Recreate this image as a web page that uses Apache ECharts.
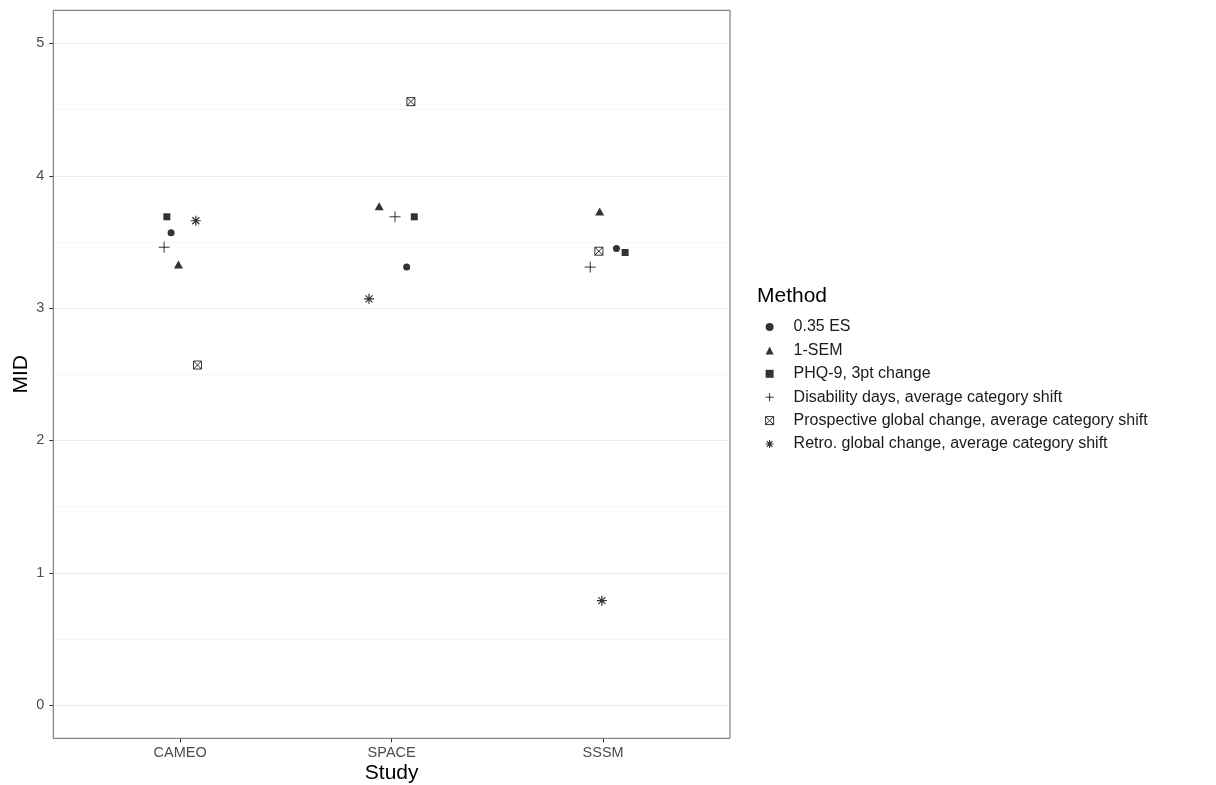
<!DOCTYPE html>
<html>
<head>
<meta charset="utf-8">
<script src="https://cdn.jsdelivr.net/npm/echarts@6/dist/echarts.min.js"></script>
<style>
html,body{margin:0;padding:0;background:#fff;}
#chart{width:1216px;height:785px;}
</style>
</head>
<body>
<div id="chart"></div>
<script>
// ---- data ----
const studies = ['CAMEO', 'SPACE', 'SSSM'];
const methods = ['0.35 ES', '1-SEM', 'PHQ-9, 3pt change', 'Disability days, average category shift',
  'Prospective global change, average category shift', 'Retro. global change, average category shift'];
// MID values per method, for CAMEO, SPACE, SSSM
const midES      = [3.57, 3.31, 3.45];
const midSEM     = [3.32, 3.76, 3.72];
const midPHQ     = [3.69, 3.69, 3.42];
const midDisab   = [3.46, 3.69, 3.31];
const midProsp   = [2.57, 4.56, 3.43];
const midRetro   = [3.66, 3.07, 0.79];
// horizontal jitter (category units) per method, for CAMEO, SPACE, SSSM
const jitES      = [-0.043, 0.071, 0.063];
const jitSEM     = [-0.008, -0.059, -0.016];
const jitPHQ     = [-0.063, 0.107, 0.104];
const jitDisab   = [-0.076, 0.016, -0.061];
const jitProsp   = [0.082, 0.091, -0.020];
const jitRetro   = [0.074, -0.107, -0.006];
const yTicks = [0, 1, 2, 3, 4, 5];
const yGrid = [0, 0.5, 1, 1.5, 2, 2.5, 3, 3.5, 4, 4.5, 5];

const vals = [midES, midSEM, midPHQ, midDisab, midProsp, midRetro];
const jits = [jitES, jitSEM, jitPHQ, jitDisab, jitProsp, jitRetro];

const FONT = '"Liberation Sans", Arial, sans-serif';
const PLUS = 'path://M0,5 L10,5 M5,0 L5,10';
const STAR = 'path://M5,0 L5,10 M0,5 L10,5 M1.46,1.46 L8.54,8.54 M8.54,1.46 L1.46,8.54';
const XBOX = 'path://M0,0 L10,0 L10,10 L0,10 Z M0,0 L10,10 M10,0 L0,10';
const STROKE = {color: 'rgba(0,0,0,0)', borderColor: '#000', borderWidth: 1};

const symbolDefs = [
  {symbol: 'circle', size: 7, legendIcon: 'circle', style: {color: '#000'}},
  {symbol: 'triangle', size: [9, 8], offset: [0, -1.3], legendIcon: 'triangle', style: {color: '#000'}},
  {symbol: 'rect', size: 7, legendIcon: 'rect', style: {color: '#000'}},
  {symbol: PLUS, size: 11, legendIcon: PLUS, style: STROKE},
  {symbol: XBOX, size: 8, legendIcon: XBOX, style: STROKE},
  {symbol: STAR, size: 10, legendIcon: STAR, style: Object.assign({}, STROKE, {borderWidth: 1.2})}
];

const series = methods.map((m, i) => ({
  name: m,
  type: 'scatter',
  symbol: symbolDefs[i].symbol,
  symbolSize: symbolDefs[i].size,
  symbolOffset: symbolDefs[i].offset || [0, 0],
  itemStyle: symbolDefs[i].style,
  z: 5,
  data: studies.map((s, k) => [k + 1 + jits[i][k], vals[i][k]])
}));

// gridlines through the y scale
series.push({
  type: 'scatter',
  name: '_grid',
  data: [],
  silent: true,
  z: 1,
  markLine: {
    silent: true,
    symbol: 'none',
    label: {show: false},
    animation: false,
    data: yGrid.map(v => ({
      yAxis: v,
      lineStyle: {color: Number.isInteger(v) ? '#ebebeb' : '#f4f4f4', width: Number.isInteger(v) ? 1.1 : 0.8, type: 'solid'}
    }))
  }
});

const chart = echarts.init(document.getElementById('chart'), null, {renderer: 'canvas'});
chart.setOption({
  animation: false,
  backgroundColor: '#fff',
  textStyle: {fontFamily: FONT},
  title: {
    text: 'Method',
    left: 752,
    top: 281,
    textStyle: {fontFamily: FONT, fontSize: 21, fontWeight: 'normal', color: '#000'}
  },
  grid: {left: 53.3, right: 486, top: 10.3, bottom: 46.7, outerBoundsMode: 'none', containLabel: false,
    show: true, borderColor: '#666', borderWidth: 1, backgroundColor: 'transparent', z: 10},
  legend: {
    orient: 'vertical',
    left: 765,
    top: 319,
    padding: 0,
    itemWidth: 8,
    itemHeight: 8,
    itemGap: 7.4,
    data: methods.map((m, i) => ({
      name: m,
      icon: symbolDefs[i].legendIcon,
      itemStyle: symbolDefs[i].style
    })),
    textStyle: {fontFamily: FONT, fontSize: 16, color: '#1a1a1a', padding: [0, 0, 0, 15]},
    selectedMode: false
  },
  xAxis: {
    type: 'value',
    min: 0.4,
    max: 3.6,
    name: 'Study',
    nameLocation: 'middle',
    nameGap: 24,
    nameMoveOverlap: false,
    nameTextStyle: {fontFamily: FONT, fontSize: 21, color: '#000', verticalAlign: 'top'},
    axisLine: {show: false, onZero: false},
    axisTick: {show: true, length: 4, lineStyle: {color: '#333'}, customValues: [1, 2, 3]},
    axisLabel: {
      customValues: [1, 2, 3],
      margin: 7,
      fontFamily: FONT, fontSize: 14.5, color: '#4d4d4d',
      formatter: v => studies[Math.round(v) - 1] || ''
    },
    splitLine: {show: false}
  },
  yAxis: {
    type: 'value',
    min: -0.25,
    max: 5.25,
    name: 'MID',
    nameLocation: 'middle',
    nameRotate: 90,
    nameGap: 22,
    nameMoveOverlap: false,
    nameTextStyle: {fontFamily: FONT, fontSize: 21, color: '#000'},
    axisLine: {show: false, onZero: false},
    axisTick: {show: true, length: 4, lineStyle: {color: '#333'}, customValues: yTicks},
    axisLabel: {
      customValues: yTicks,
      margin: 9,
      fontFamily: FONT, fontSize: 14.5, color: '#4d4d4d'
    },
    splitLine: {show: false}
  },
  series: series
});
</script>
</body>
</html>
